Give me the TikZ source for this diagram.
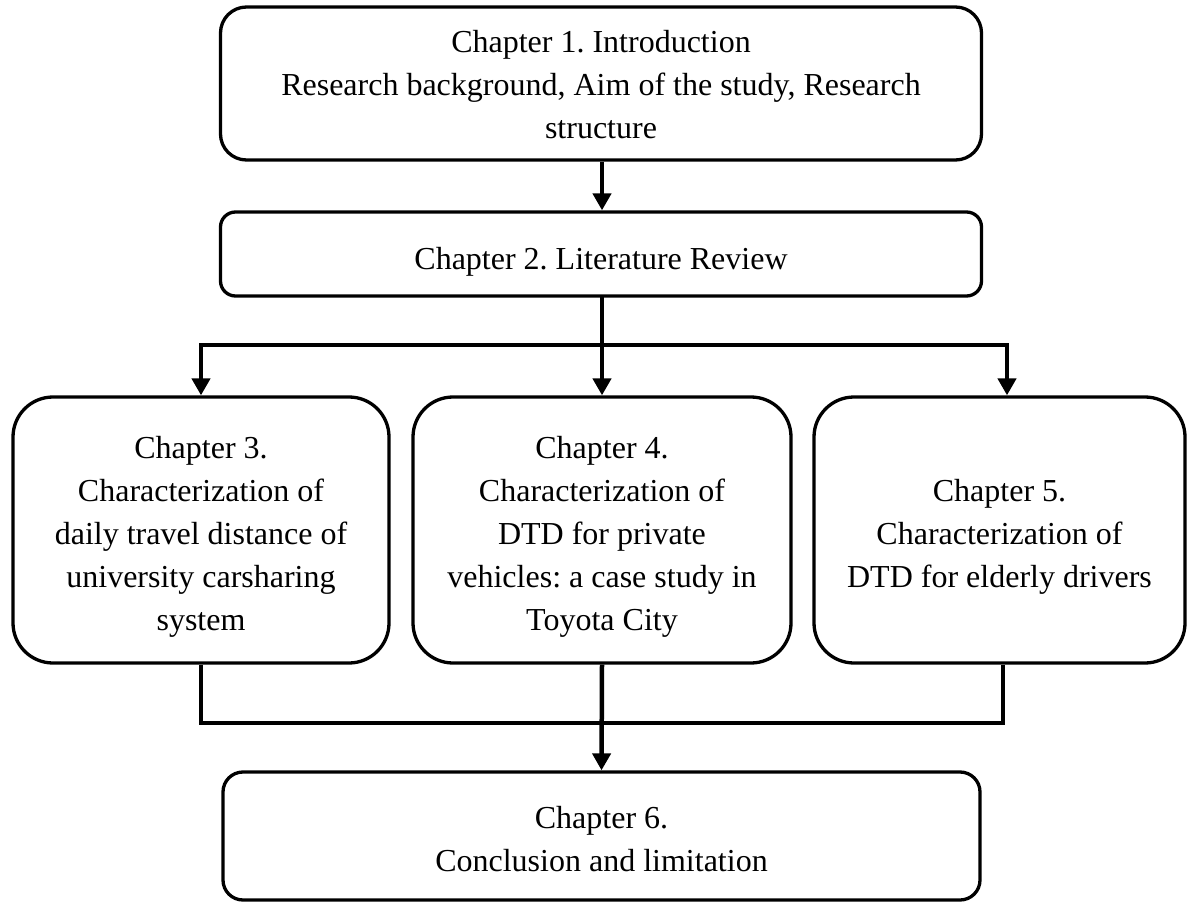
\documentclass[tikz,border=0pt]{standalone}
\usepackage{fontspec}
\setmainfont{Liberation Serif}
\usetikzlibrary{arrows.meta}
\frenchspacing
\newcommand\boxlines[2]{\raisebox{#1}[0pt][0pt]{\begin{tabular}{@{}c@{}}#2\end{tabular}}}
\tikzset{
  chapbox/.style={draw=black, line width=1.65pt, fill=white, align=center, inner sep=0pt,
    font=\fontsize{16}{21.5}\selectfont, text=black},
  conn/.style={draw=black, line width=2.25pt, line cap=rect},
  arr/.style={draw=black, line width=2.25pt, -{Triangle[length=8.5pt,width=9pt]}},
  botline/.style={draw=black, line width=1.75pt, line join=miter},
}
\begin{document}
\begin{tikzpicture}[x=0.5pt, y=-0.5pt]
\useasboundingbox (0,0) rectangle (1193,903);

\node[chapbox, rounded corners=13pt, minimum width=380.5pt, minimum height=76.5pt] (b1) at (601,83.5)
  {\boxlines{-6pt}{Chapter 1. Introduction\\ Research background, Aim of the study, Research\\ structure}};
\node[chapbox, rounded corners=7.5pt, minimum width=380.5pt, minimum height=42pt] (b2) at (601,254)
  {\boxlines{-8pt}{Chapter 2. Literature Review}};
\node[chapbox, rounded corners=20pt, minimum width=188pt, minimum height=133pt] (b3) at (201,530)
  {\boxlines{-7.5pt}{Chapter 3.\\ Characterization of\\ daily travel distance of\\ university carsharing\\ system}};
\node[chapbox, rounded corners=20pt, minimum width=189pt, minimum height=133pt] (b4) at (602,530)
  {\boxlines{-7.5pt}{Chapter 4.\\ Characterization of\\ DTD for private\\ vehicles: a case study in\\ Toyota City}};
\node[chapbox, rounded corners=20pt, minimum width=185.5pt, minimum height=133pt] (b5) at (999.5,530)
  {\boxlines{-7.5pt}{Chapter 5.\\ Characterization of\\ DTD for elderly drivers}};
\node[chapbox, rounded corners=10pt, minimum width=378.5pt, minimum height=64pt] (b6) at (601.5,836)
  {\boxlines{-7pt}{Chapter 6.\\ Conclusion and limitation}};

% top connectors
\coordinate (split) at (602,345);
\coordinate (L) at (201,345);
\coordinate (R) at (1007,345);
\draw[arr] (split |- b1.south) -- (split |- b2.north);
\draw[conn] (split |- b2.south) -- (split);
\draw[conn] (L) -- (R);
\draw[arr] (L) -- (b3.north);
\draw[arr] (split) -- (b4.north);
\draw[arr] (R) -- (R |- b5.north);

% bottom connectors
\coordinate (BL) at (201,723);
\coordinate (BR) at (1003,723);
\draw[botline] (b3.south) -- (BL) -- (BR) -- (BR |- b5.south);
\draw[arr] (b4.south) -- (b6.north);
\end{tikzpicture}
\end{document}
